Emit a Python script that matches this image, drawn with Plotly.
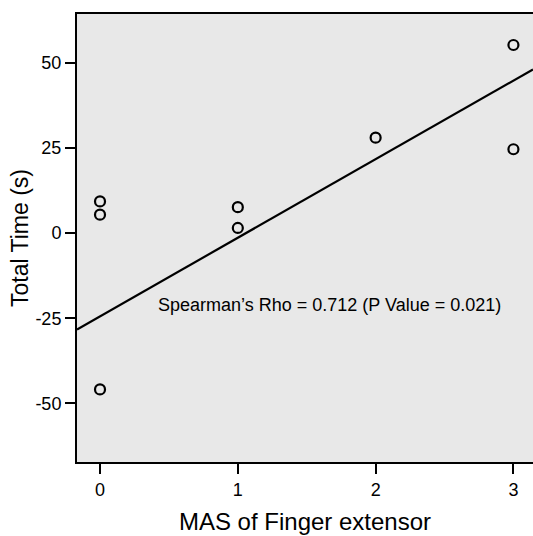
import plotly.graph_objects as go

# Data
mas_x = [0, 0, 0, 1, 1, 2, 3, 3]
total_time = [9.3, 5.4, -45.9, 7.6, 1.5, 28.0, 55.2, 24.6]
fit_intercept = -24.45
fit_slope = 23.07
x_ticks = [0, 1, 2, 3]
y_ticks = [-50, -25, 0, 25, 50]
x_range = [-0.167, 3.142]
y_range = [-67.2, 64.3]
annot_text = "Spearman\u2019s Rho = 0.712 (P Value = 0.021)"

FONT = "Liberation Sans, Arial, sans-serif"

fit_x = [x_range[0], x_range[1]]
fit_y = [fit_intercept + fit_slope * v for v in fit_x]

fig = go.Figure()
fig.add_trace(go.Scatter(
    x=fit_x, y=fit_y, mode="lines",
    line=dict(color="black", width=2.2), hoverinfo="skip", showlegend=False,
))
fig.add_trace(go.Scatter(
    x=mas_x, y=total_time, mode="markers",
    marker=dict(symbol="circle-open", size=10, color="black", line=dict(width=2.2)),
    showlegend=False,
))

fig.add_annotation(
    x=0.405, y=-21.2, xref="x", yref="y", text=annot_text, showarrow=False,
    xanchor="left", yanchor="middle", font=dict(family=FONT, size=18, color="black"),
)

fig.update_layout(
    width=533, height=536,
    margin=dict(l=77, r=0, t=14, b=74),
    paper_bgcolor="white", plot_bgcolor="#e8e8e8",
    font=dict(family=FONT, color="black"),
)
fig.update_xaxes(
    range=x_range, tickvals=x_ticks, ticktext=[str(v) for v in x_ticks],
    showgrid=False, zeroline=False, showline=True, linecolor="black", linewidth=2,
    mirror=True, ticks="outside", ticklen=10, tickwidth=2, tickcolor="black",
    tickfont=dict(size=18, family=FONT),
    title=dict(text="MAS of Finger extensor", font=dict(size=24, family=FONT), standoff=15),
)
fig.update_yaxes(
    range=y_range, tickvals=y_ticks, ticktext=[str(v) for v in y_ticks],
    showgrid=False, zeroline=False, showline=True, linecolor="black", linewidth=2,
    mirror=False, ticks="outside", ticklen=10, tickwidth=2, tickcolor="black",
    tickfont=dict(size=18, family=FONT),
    title=dict(text="Total Time (s)", font=dict(size=23, family=FONT), standoff=0),
)

fig.write_html("out.html")
